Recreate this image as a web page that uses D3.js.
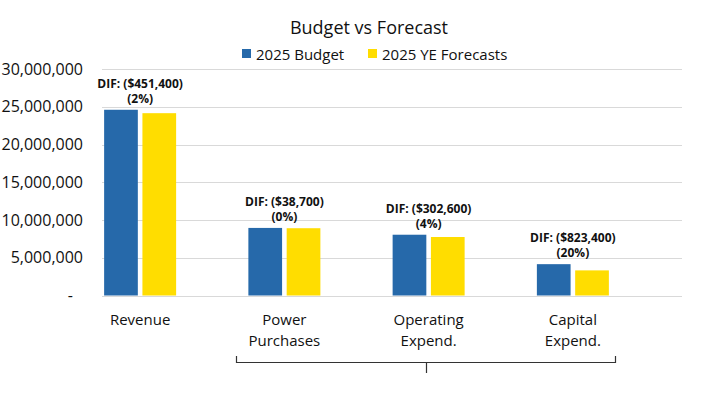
<!DOCTYPE html>
<html>
<head>
<meta charset="utf-8">
<script src="https://cdn.jsdelivr.net/npm/d3@7"></script>
<style>
  body { margin: 0; background: #fff; }
  text { font-family: "Open Sans", "Noto Sans", sans-serif; fill: #111; }
</style>
</head>
<body>
<div id="chart"></div>
<script>
const categories = [["Revenue"], ["Power", "Purchases"], ["Operating", "Expend."], ["Capital", "Expend."]];
const budget = [24600000, 8950000, 8050000, 4150000];
const forecast = [24148600, 8911300, 7747400, 3326600];
const difLabels = ["DIF: ($451,400)", "DIF: ($38,700)", "DIF: ($302,600)", "DIF: ($823,400)"];
const pctLabels = ["(2%)", "(0%)", "(4%)", "(20%)"];
const seriesNames = ["2025 Budget", "2025 YE Forecasts"];
const yTicks = [0, 5000000, 10000000, 15000000, 20000000, 25000000, 30000000];

const BLUE = "#2669aa";
const YELLOW = "#ffdd00";
const width = 707, height = 393;

const svg = d3.select("#chart").append("svg")
  .attr("width", width).attr("height", height);

const y = d3.scaleLinear().domain([0, 30000000]).range([295.5, 69]);
const x = d3.scaleBand().domain(d3.range(categories.length)).range([68, 645]);
const xs = d3.scaleBand().domain([0, 1]).range([0, 72]).paddingInner(0.12);

// gridlines
svg.append("g").selectAll("line")
  .data(yTicks)
  .join("line")
  .attr("x1", 102).attr("x2", 682)
  .attr("y1", d => Math.round(y(d)) + 0.5).attr("y2", d => Math.round(y(d)) + 0.5)
  .attr("stroke", "#d9d9d9").attr("stroke-width", 1);

// y axis labels
const yAxis = d3.axisLeft(y).tickValues(yTicks).tickSize(0).tickPadding(0)
  .tickFormat(d => d === 0 ? "-" : d3.format(",")(d));
svg.append("g").attr("transform", "translate(83,0)").call(yAxis)
  .call(g => g.select(".domain").remove())
  .selectAll("text").style("font-size", "16px").attr("fill", "#222")
  .attr("dx", d => d === 0 ? "-10px" : 0);

// bars
const groups = svg.append("g").selectAll("g")
  .data(categories.map((c, i) => i))
  .join("g")
  .attr("transform", i => `translate(${x(i) + x.bandwidth() / 2 - 36},0)`);

groups.append("rect")
  .attr("x", xs(0)).attr("width", xs.bandwidth())
  .attr("y", i => y(budget[i])).attr("height", i => y(0) - y(budget[i]))
  .attr("fill", BLUE);
groups.append("rect")
  .attr("x", xs(1)).attr("width", xs.bandwidth())
  .attr("y", i => y(forecast[i])).attr("height", i => y(0) - y(forecast[i]))
  .attr("fill", YELLOW);

// DIF annotations (two lines in one text)
const ann = groups.append("text")
  .attr("x", 36).attr("y", i => y(budget[i]) - 22)
  .attr("text-anchor", "middle")
  .style("font-size", "12px").style("font-weight", "bold");
ann.append("tspan").attr("x", 36).text(i => difLabels[i]);
ann.append("tspan").attr("x", 36).attr("dy", 15).text(i => pctLabels[i]);

// category labels
const cl = svg.append("g").selectAll("text")
  .data(categories)
  .join("text")
  .attr("x", (d, i) => x(i) + x.bandwidth() / 2)
  .attr("y", 325)
  .attr("text-anchor", "middle")
  .style("font-size", "15px");
cl.selectAll("tspan")
  .data(d => d)
  .join("tspan")
  .attr("x", function () { return this.parentNode.getAttribute("x"); })
  .attr("dy", (d, j) => j === 0 ? 0 : 21)
  .text(d => d);

// bracket under expense categories
svg.append("path")
  .attr("d", "M236.5,356 V362.5 H615.5 V356 M426.5,362.5 V373")
  .attr("fill", "none").attr("stroke", "#333").attr("stroke-width", 1.2);

// title
svg.append("text")
  .attr("x", 369).attr("y", 34)
  .attr("text-anchor", "middle")
  .style("font-size", "18px")
  .text("Budget vs Forecast");

// legend
const legend = svg.append("g").selectAll("g")
  .data(seriesNames)
  .join("g")
  .attr("transform", (d, i) => `translate(${i === 0 ? 242 : 368},49)`);
legend.append("rect").attr("width", 9).attr("height", 9)
  .attr("fill", (d, i) => i === 0 ? BLUE : YELLOW);
legend.append("text").attr("x", 14).attr("y", 10.5)
  .style("font-size", "15px").text(d => d);
</script>
</body>
</html>
